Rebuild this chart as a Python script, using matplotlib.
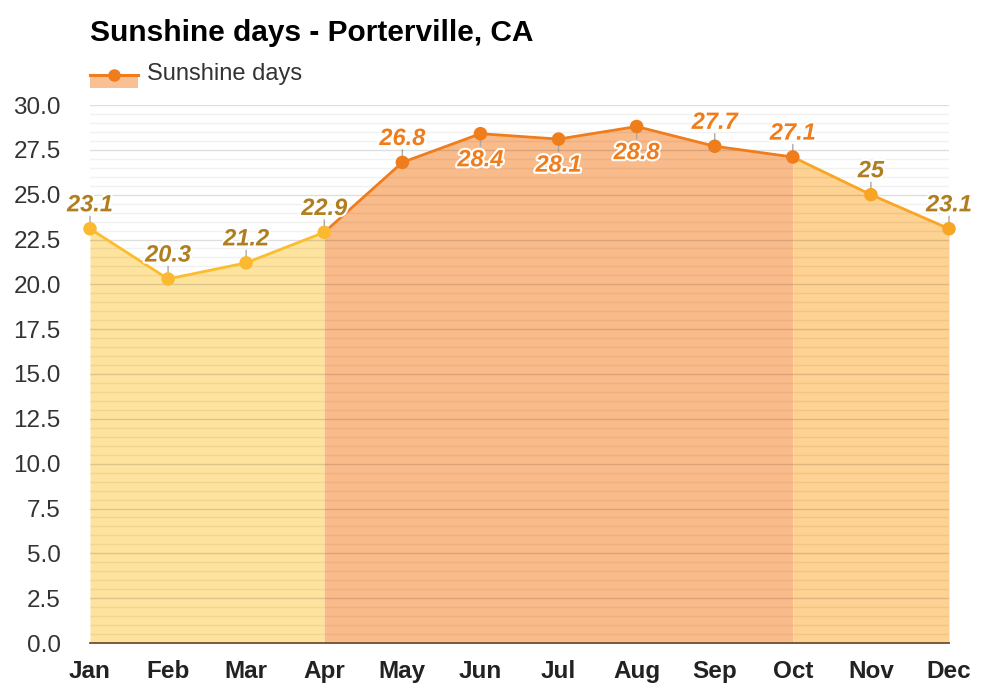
import numpy as np
import matplotlib.pyplot as plt
from matplotlib.lines import Line2D
from matplotlib.patches import Rectangle
import matplotlib.patheffects as pe

plt.rcParams['font.family'] = ['Liberation Sans', 'DejaVu Sans']

months = ['Jan', 'Feb', 'Mar', 'Apr', 'May', 'Jun', 'Jul', 'Aug', 'Sep', 'Oct', 'Nov', 'Dec']
sunshine = [23.1, 20.3, 21.2, 22.9, 26.8, 28.4, 28.1, 28.8, 27.7, 27.1, 25.0, 23.1]
labels = ['23.1', '20.3', '21.2', '22.9', '26.8', '28.4', '28.1', '28.8', '27.7', '27.1', '25', '23.1']
# where the label sits: 1 above the point, -1 below
label_side = [1, 1, 1, 1, 1, -1, -1, -1, 1, 1, 1, 1]

x = np.arange(len(months))
y = np.array(sunshine)

# season pieces: (start, end, fill, line)
pieces = [
    (0, 3, '#fde39d', '#fbbd2d'),
    (3, 9, '#fabb8b', '#f07d1c'),
    (9, 11, '#fdd292', '#f8a624'),
]
marker_col = ['#fbb932'] * 4 + ['#f07d1c'] * 6 + ['#f8a526'] * 2
label_col = ['#b07e1f'] * 4 + ['#f07d1c'] * 6 + ['#b07e1f'] * 2

fig = plt.figure(figsize=(10, 7), dpi=100)
ax = fig.add_axes([0.09, 1 - 643 / 700, 0.859, (643 - 105) / 700])

for a, b, fc, lc in pieces:
    xs = x[a:b + 1]
    ys = y[a:b + 1]
    ax.fill_between(xs, 0, ys, color=fc, lw=0, zorder=1)
    ax.plot(xs, ys, color=lc, lw=2, zorder=3, solid_capstyle='round')

ax.scatter(x, y, s=95, c=marker_col, zorder=4, linewidths=0, clip_on=False)

for xi, yi, lab, side, tc in zip(x, y, labels, label_side, label_col):
    ax.annotate('', xy=(xi, yi), xytext=(0, 11 * side), textcoords='offset points',
                arrowprops=dict(arrowstyle='-', color='#aaaaaa', lw=1), zorder=2)
    off = 19 if side > 0 else -17
    ax.annotate(lab, xy=(xi, yi), xytext=(0, off), textcoords='offset points',
                ha='center', va='center_baseline', fontsize=17, fontweight='bold',
                fontstyle='italic', color=tc, zorder=5,
                path_effects=[pe.withStroke(linewidth=3, foreground='white')])

ax.set_xlim(0, 11)
ax.set_ylim(0, 30)
ax.set_xticks(x)
ax.set_xticklabels(months, fontsize=17.5, fontweight='bold', color='#222222')
ax.set_yticks(np.arange(0, 30.1, 2.5))
ax.set_yticklabels(['%.1f' % v for v in np.arange(0, 30.1, 2.5)], fontsize=17.5, color='#333333')
ax.set_yticks(np.arange(0, 30.1, 0.5), minor=True)
ax.tick_params(axis='both', which='both', length=0)
ax.tick_params(axis='y', pad=21)
ax.tick_params(axis='x', pad=12)

ax.grid(True, axis='y', which='major', color='#000000', alpha=0.13, lw=1, zorder=2)
ax.grid(True, axis='y', which='minor', color='#000000', alpha=0.055, lw=1, zorder=2)
ax.set_axisbelow(False)

for s in ['top', 'right', 'left']:
    ax.spines[s].set_visible(False)
ax.spines['bottom'].set_color('#6e5230')
ax.spines['bottom'].set_linewidth(1.3)
ax.spines['bottom'].set_zorder(6)

fig.text(0.09, 1 - 33 / 700, 'Sunshine days - Porterville, CA', fontsize=21.5,
         fontweight='bold', ha='left', va='center', color='#000000')

# legend drawn by hand
fig.patches.append(Rectangle((90 / 1000, 1 - 88 / 700), 48 / 1000, 13 / 700,
                             transform=fig.transFigure, color='#f9c094', lw=0))
fig.lines.append(Line2D([90 / 1000, 138 / 1000], [1 - 75 / 700, 1 - 75 / 700],
                        transform=fig.transFigure, color='#f07d1c', lw=2.2))
fig.lines.append(Line2D([114 / 1000], [1 - 75 / 700], transform=fig.transFigure,
                        marker='o', markersize=8, color='#f07d1c', lw=0))
fig.text(147 / 1000, 1 - 74 / 700, 'Sunshine days', fontsize=17, ha='left', va='center',
         color='#333333')

fig.savefig('out.png', dpi=100)
